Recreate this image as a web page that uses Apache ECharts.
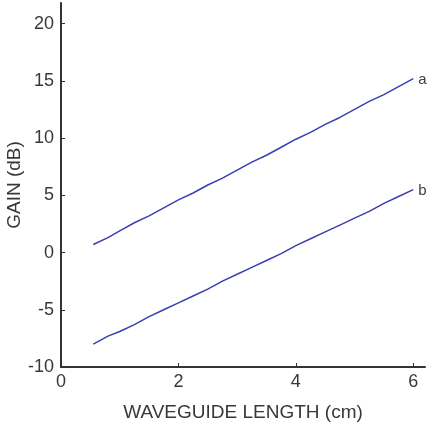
<!DOCTYPE html>
<html>
<head>
<meta charset="utf-8">
<script src="https://cdn.jsdelivr.net/npm/echarts@6/dist/echarts.min.js"></script>
<style>html,body{margin:0;padding:0;background:#fff}#c{width:437px;height:425px}</style>
</head>
<body>
<div id="c"></div>
<script>
var lengths = [0.55, 0.8, 1.0, 1.25, 1.5, 1.75, 2.0, 2.25, 2.5, 2.75, 3.0, 3.25, 3.5, 3.75, 4.0, 4.25, 4.5, 4.75, 5.0, 5.25, 5.5, 5.75, 6.0];
var gainA = [0.7, 1.3, 1.9, 2.6, 3.2, 3.9, 4.6, 5.2, 5.9, 6.5, 7.2, 7.9, 8.5, 9.2, 9.9, 10.5, 11.2, 11.8, 12.5, 13.2, 13.8, 14.5, 15.2];
var gainB = [-8.0, -7.3, -6.9, -6.3, -5.6, -5.0, -4.4, -3.8, -3.2, -2.5, -1.9, -1.3, -0.7, -0.1, 0.6, 1.2, 1.8, 2.4, 3.0, 3.6, 4.3, 4.9, 5.5];
var seriesNames = ['a', 'b'];

function pairs(xs, ys){ return xs.map(function(x,i){ return [x, ys[i]]; }); }

var chart = echarts.init(document.getElementById('c'));
var font = 'Liberation Sans, Arial, sans-serif';
var axisCommon = {
  axisLine: {show: true, onZero: false, lineStyle: {color: '#333', width: 2}},
  axisTick: {show: true, inside: true, length: 4, lineStyle: {color: '#333', width: 1}},
  splitLine: {show: false},
  axisLabel: {color: '#383838', fontSize: 18, fontFamily: font, showMaxLabel: false},
  nameTextStyle: {color: '#383838', fontSize: 19, fontFamily: font},
  nameMoveOverlap: false
};
function lineSeries(name, ys){
  return {
    name: name, type: 'line', data: pairs(lengths, ys), showSymbol: false, symbol: 'none',
    lineStyle: {color: '#3b3fae', width: 1.5},
    endLabel: {show: true, formatter: name, color: '#404040', fontSize: 15, fontFamily: font, distance: 5, offset: [0, 1]},
    animation: false
  };
}
chart.setOption({
  animation: false,
  grid: {left: 61, right: 12, top: 3, bottom: 58, outerBoundsMode: 'none', containLabel: false},
  xAxis: Object.assign({}, axisCommon, {
    type: 'value', min: 0, max: 6.2, interval: 2,
    name: 'WAVEGUIDE LENGTH (cm)', nameLocation: 'middle', nameGap: 36,
    axisLabel: Object.assign({}, axisCommon.axisLabel, {margin: 6})
  }),
  yAxis: Object.assign({}, axisCommon, {
    type: 'value', min: -10, max: 21.8, interval: 5,
    name: 'GAIN (dB)', nameLocation: 'middle', nameGap: 37,
    axisLabel: Object.assign({}, axisCommon.axisLabel, {margin: 7})
  }),
  series: [lineSeries(seriesNames[0], gainA), lineSeries(seriesNames[1], gainB)]
});
</script>
</body>
</html>
